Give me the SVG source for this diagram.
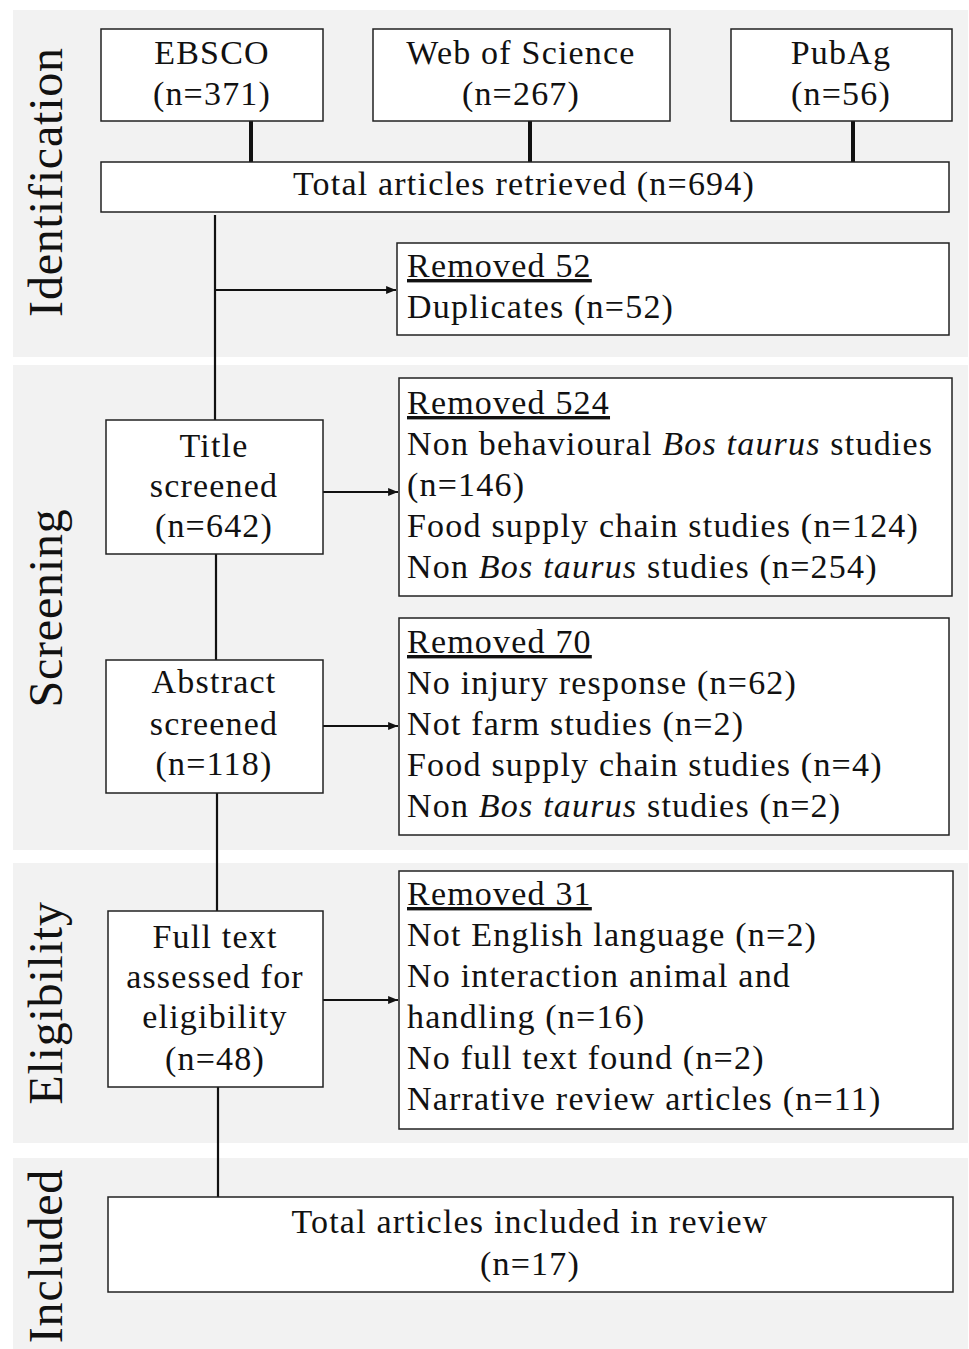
<svg xmlns="http://www.w3.org/2000/svg" width="969" height="1349" viewBox="0 0 969 1349">
<style>
.band{fill:#f2f2f2}
.box{fill:#fff;stroke:#222;stroke-width:1.5}
.t{font-family:"Liberation Serif",serif;font-size:34px;letter-spacing:1.2px;fill:#111}
.c{text-anchor:middle}
.lab{font-family:"Liberation Serif",serif;font-size:48px;letter-spacing:0.8px;fill:#111;text-anchor:middle}
.u{text-decoration:underline}
.conn{stroke:#111;stroke-width:2.2;fill:none}
.thick{stroke:#111;stroke-width:4;fill:none}
</style>
<defs>
<marker id="ah" viewBox="0 0 10 10" refX="10" refY="5" markerWidth="4.5" markerHeight="4.5" orient="auto" markerUnits="strokeWidth">
<path d="M0,1 L10,5 L0,9 z" fill="#111"/>
</marker>
</defs>
<rect width="969" height="1349" fill="#fff"/>
<g id="bands">
<rect class="band" x="13" y="10" width="955" height="347"/>
<rect class="band" x="13" y="365" width="955" height="485"/>
<rect class="band" x="13" y="863" width="955" height="280"/>
<rect class="band" x="13" y="1158" width="955" height="191"/>
<text class="lab" transform="translate(62,182) rotate(-90)">Identification</text>
<text class="lab" transform="translate(62,608) rotate(-90)">Screening</text>
<text class="lab" transform="translate(62,1003) rotate(-90)">Eligibility</text>
<text class="lab" transform="translate(62,1256) rotate(-90)">Included</text>
</g>
<g id="connectors">
<line class="thick" x1="251" y1="121" x2="251" y2="162"/>
<line class="thick" x1="530" y1="121" x2="530" y2="162"/>
<line class="thick" x1="853" y1="121" x2="853" y2="162"/>
<line class="conn" x1="215" y1="215" x2="215" y2="420"/>
<line class="conn" x1="215" y1="290" x2="396" y2="290" marker-end="url(#ah)"/>
<line class="conn" x1="323" y1="492" x2="398" y2="492" marker-end="url(#ah)"/>
<line class="conn" x1="216" y1="554" x2="216" y2="660"/>
<line class="conn" x1="323" y1="726" x2="398" y2="726" marker-end="url(#ah)"/>
<line class="conn" x1="217" y1="793" x2="217" y2="911"/>
<line class="conn" x1="323" y1="1000" x2="398" y2="1000" marker-end="url(#ah)"/>
<line class="conn" x1="218" y1="1087" x2="218" y2="1197"/>
</g>
<g id="ebsco">
<rect class="box" x="101" y="29" width="222" height="92"/>
<text class="t c" x="212" y="64">EBSCO</text>
<text class="t c" x="212" y="105">(n=371)</text>
</g>
<g id="wos">
<rect class="box" x="373" y="29" width="297" height="92"/>
<text class="t c" x="521" y="64">Web of Science</text>
<text class="t c" x="521" y="105">(n=267)</text>
</g>
<g id="pubag">
<rect class="box" x="731" y="29" width="221" height="92"/>
<text class="t c" x="841" y="64">PubAg</text>
<text class="t c" x="841" y="105">(n=56)</text>
</g>
<g id="total">
<rect class="box" x="101" y="162" width="848" height="50"/>
<text class="t c" x="524" y="195">Total articles retrieved (n=694)</text>
</g>
<g id="removed52">
<rect class="box" x="397" y="243" width="552" height="92"/>
<text class="t u" x="407" y="277">Removed 52</text>
<text class="t" x="407" y="318">Duplicates (n=52)</text>
</g>
<g id="title">
<rect class="box" x="106" y="420" width="217" height="134"/>
<text class="t c" x="214" y="457">Title</text>
<text class="t c" x="214" y="497">screened</text>
<text class="t c" x="214" y="537">(n=642)</text>
</g>
<g id="removed524">
<rect class="box" x="399" y="378" width="553" height="218"/>
<text class="t u" x="407" y="414">Removed 524</text>
<text class="t" x="407" y="455">Non behavioural <tspan font-style="italic">Bos taurus</tspan> studies</text>
<text class="t" x="407" y="496">(n=146)</text>
<text class="t" x="407" y="537">Food supply chain studies (n=124)</text>
<text class="t" x="407" y="578">Non <tspan font-style="italic">Bos taurus</tspan> studies (n=254)</text>
</g>
<g id="abstract">
<rect class="box" x="106" y="660" width="217" height="133"/>
<text class="t c" x="214" y="693">Abstract</text>
<text class="t c" x="214" y="735">screened</text>
<text class="t c" x="214" y="775">(n=118)</text>
</g>
<g id="removed70">
<rect class="box" x="399" y="618" width="550" height="217"/>
<text class="t u" x="407" y="653">Removed 70</text>
<text class="t" x="407" y="694">No injury response (n=62)</text>
<text class="t" x="407" y="735">Not farm studies (n=2)</text>
<text class="t" x="407" y="776">Food supply chain studies (n=4)</text>
<text class="t" x="407" y="817">Non <tspan font-style="italic">Bos taurus</tspan> studies (n=2)</text>
</g>
<g id="fulltext">
<rect class="box" x="108" y="911" width="215" height="176"/>
<text class="t c" x="215" y="948">Full text</text>
<text class="t c" x="215" y="988">assessed for</text>
<text class="t c" x="215" y="1028">eligibility</text>
<text class="t c" x="215" y="1070">(n=48)</text>
</g>
<g id="removed31">
<rect class="box" x="399" y="871" width="554" height="258"/>
<text class="t u" x="407" y="905">Removed 31</text>
<text class="t" x="407" y="946">Not English language (n=2)</text>
<text class="t" x="407" y="987">No interaction animal and</text>
<text class="t" x="407" y="1028">handling (n=16)</text>
<text class="t" x="407" y="1069">No full text found (n=2)</text>
<text class="t" x="407" y="1110">Narrative review articles (n=11)</text>
</g>
<g id="included">
<rect class="box" x="108" y="1197" width="845" height="95"/>
<text class="t c" x="530" y="1233">Total articles included in review</text>
<text class="t c" x="530" y="1275">(n=17)</text>
</g>
</svg>
